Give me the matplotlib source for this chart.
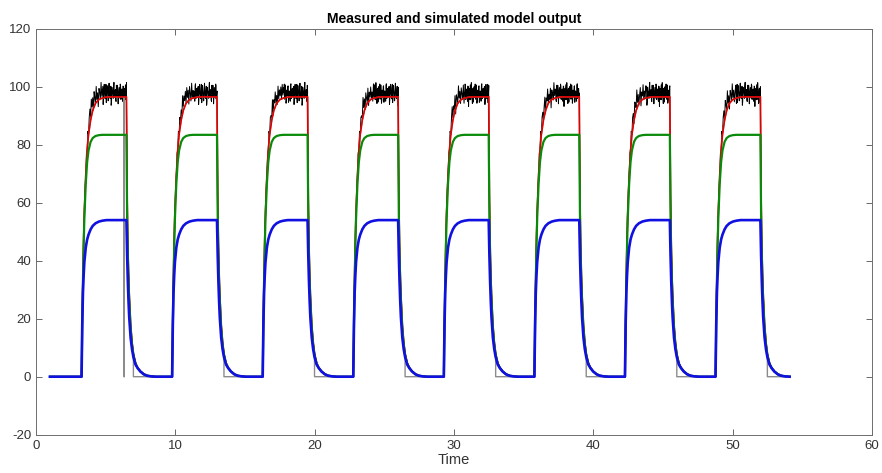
import numpy as np
import matplotlib
matplotlib.use('Agg')
import matplotlib.pyplot as plt
from matplotlib import font_manager

# ---------------- data ----------------
t_first = 1.0
rise_times = [3.27, 9.77, 16.27, 22.77, 29.27, 35.77, 42.27, 48.77]
fall_times = [6.49, 12.99, 19.49, 25.99, 32.49, 38.99, 45.49, 51.99]
gray_cut_delay = 0.5
gray_glitch_times = [6.33]

# time offsets after a rise / after a fall
profile_dt = [0, 0.05, 0.1, 0.15, 0.2, 0.3, 0.4, 0.5, 0.65, 0.8, 1.0, 1.25, 1.5, 1.8, 2.1]

red_rise = [0, 20, 36, 48, 57, 69.5, 78, 83.5, 88.5, 91.8, 94.3, 95.6, 96.1, 96.4, 96.5]
green_rise = [0, 18, 33, 45, 54.5, 66.5, 74, 78, 81, 82.3, 83, 83.3, 83.4, 83.4, 83.4]
blue_rise = [0, 18, 29, 35, 39.5, 44.5, 47.3, 49, 50.8, 52, 52.9, 53.5, 53.8, 54, 54]

red_fall = [96.5, 62, 46, 36, 28.5, 18, 12, 8, 4.8, 3.2, 1.9, 0.9, 0.4, 0.15, 0]
green_fall = [83.4, 56, 42, 33, 26.5, 17, 11.2, 7.6, 4.5, 3.0, 1.8, 0.85, 0.35, 0.12, 0]
blue_fall = [54, 42, 33, 26, 20.5, 13.5, 9.5, 6.8, 4.2, 3.0, 1.8, 0.8, 0.3, 0.1, 0]
black_fall = [97.8, 63, 46.5, 36.5, 29, 18.3, 12.2, 8.1, 4.9, 3.2, 1.9, 0.9, 0.4, 0.15, 0]

# measured (black) pulse: rising part sampled every 0.05, plateau every 0.025
black_rise_step = 0.05
black_rise_base = [0, 18.4, 33.4, 45.5, 55.3, 63.3, 69.8, 75.0, 79.3, 82.8, 85.6, 87.9,
                   89.8, 91.3, 92.5, 93.5, 94.3, 95.0, 95.5, 95.9, 96.3,
                   96.5, 96.8, 96.9, 97.1, 97.2, 97.4, 97.5, 97.6, 97.6, 97.7]
black_plateau_step = 0.025
black_plateau = 97.6
black_noise_head = [0, 0, 0, 0.5, -0.8, 1.2, -1.5, 2.0, -1.0, 1.8, -2.2, 1.5]
black_noise_tail = [2.5, -1.8, 3.2, -0.5, 1.9, -3.1, 2.8, 0.4, -2.4, 3.6, -1.2, 1.0,
                    -4.0, 2.2, 0.8, -1.6, 3.9, -0.9, 1.4, -2.7, 0.6, 2.9, -3.5, 1.1,
                    -0.4, 3.3, -2.0, 0.9, -1.3, 2.6, -4.4, 1.7, 0.2, -2.1, 3.8, -0.7,
                    1.5, -2.9, 2.4, 0.3, -1.9, 3.0, -3.3, 1.2, -0.6, 2.7, -1.5, 0.7,
                    -2.6, 3.4, -1.1, 1.8, -0.3]

x_ticks = [0, 10, 20, 30, 40, 50, 60]
y_ticks = [-20, 0, 20, 40, 60, 80, 100, 120]
title = "Measured and simulated model output"
xlabel = "Time"

# ---------------- build series ----------------
def build(rise_vals, fall_vals):
    t, y = [t_first], [0.0]
    for r, f in zip(rise_times, fall_times):
        t += [r + d for d in profile_dt]
        y += list(rise_vals)
        t += [f + d for d in profile_dt]
        y += list(fall_vals)
    return np.array(t), np.array(y)

t_red, y_red = build(red_rise, red_fall)
t_green, y_green = build(green_rise, green_fall)
t_blue, y_blue = build(blue_rise, blue_fall)

# black measured
tail = np.array(black_noise_tail)
t_blk, y_blk = [t_first], [0.0]
for k, (r, f) in enumerate(zip(rise_times, fall_times)):
    tail_k = np.roll(tail, 7 * k)
    n_r = len(black_rise_base)
    rise_noise = np.concatenate([black_noise_head, tail_k])[:n_r]
    t_blk += list(r + black_rise_step * np.arange(n_r))
    y_blk += list(np.array(black_rise_base) + rise_noise)
    # plateau: interleave two shifted copies of the read noise
    plat_noise = np.ravel(np.column_stack([tail_k, 0.85 * np.roll(tail_k, 23)]))
    t0 = r + black_rise_step * (n_r - 1)
    n_p = int(round((f - t0) / black_plateau_step))
    t_blk += list(t0 + black_plateau_step * np.arange(1, n_p + 1))
    y_blk += list(black_plateau + plat_noise[:n_p])
    t_blk += [f + d for d in profile_dt]
    y_blk += black_fall

# gray
t_gr, y_gr = [t_first], [0.0]
for r, f in zip(rise_times, fall_times):
    t_gr += [r + d for d in profile_dt]
    y_gr += red_rise
    for g in gray_glitch_times:
        if r < g < f:
            t_gr += [g, g, g]
            y_gr += [red_rise[-1], 0, red_rise[-1]]
    for d, v in zip(profile_dt, red_fall):
        if d <= gray_cut_delay:
            t_gr.append(f + d)
            y_gr.append(v)
    t_gr += [f + gray_cut_delay]
    y_gr += [0]
t_gr.append(fall_times[-1] + profile_dt[-1])
y_gr.append(0)

# ---------------- plot ----------------
avail = {f.name for f in font_manager.fontManager.ttflist}
fam = [f for f in ['Liberation Sans Narrow', 'Liberation Sans', 'DejaVu Sans'] if f in avail]
plt.rcParams['font.family'] = fam
plt.rcParams['axes.unicode_minus'] = False

fig = plt.figure(figsize=(8.82, 4.73), dpi=100)
ax = fig.add_axes([36 / 882, 1 - 434.7 / 473, (872 - 36) / 882, (434.7 - 28.7) / 473])

ax.plot(t_blk, y_blk, color='black', lw=0.7)
ax.plot(t_gr, y_gr, color='#8c8c8c', lw=1.0)
ax.plot(t_red, y_red, color='#e00000', lw=1.2)
ax.plot(t_green, y_green, color='#0a8a0a', lw=1.6)
ax.plot(t_blue, y_blue, color='#1010e0', lw=1.9)

ax.set_xlim(0, 60)
ax.set_ylim(-20, 120)
ax.set_xticks(x_ticks)
ax.set_yticks(y_ticks)
ax.tick_params(direction='in', top=True, right=True, length=4, width=0.6,
               colors='#505050', labelsize=9.5, labelcolor='#333333')
for s in ax.spines.values():
    s.set_color('#6e6e6e')
    s.set_linewidth(0.7)
ax.set_title(title, fontsize=10, fontweight='bold', color='black', pad=4)
ax.set_xlabel(xlabel, fontsize=10.5, color='#333333', labelpad=1)

fig.savefig('out.png', dpi=100)
